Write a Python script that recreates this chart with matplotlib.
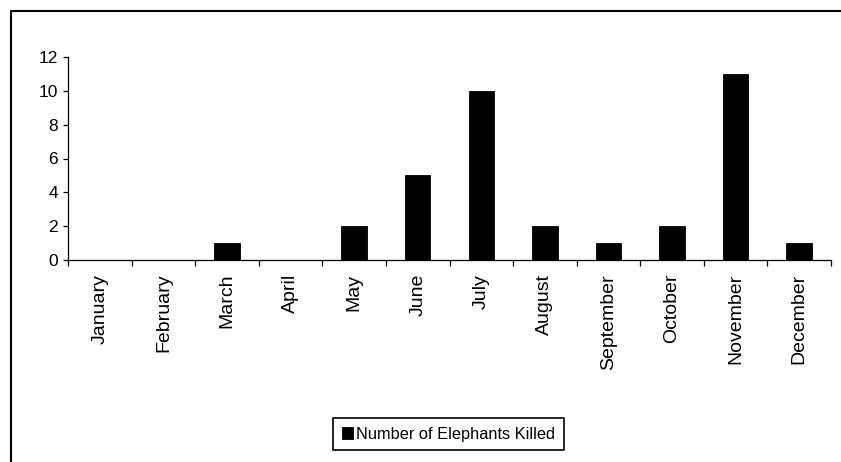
import matplotlib.pyplot as plt
from matplotlib.lines import Line2D
import numpy as np

months = ["January", "February", "March", "April", "May", "June", "July",
          "August", "September", "October", "November", "December"]
killed = [0, 0, 1, 0, 2, 5, 10, 2, 1, 2, 11, 1]
series_name = "Number of Elephants Killed"

plt.rcParams['font.family'] = ['Liberation Sans', 'DejaVu Sans']

W, H = 841, 462
fig = plt.figure(figsize=(W / 100, H / 100), dpi=100)
ax = fig.add_axes([68 / W, 1 - 260 / H, (831 - 68) / W, (260 - 57) / H])

x = np.arange(len(months))
ax.bar(x, killed, width=0.4, color='black', edgecolor='black', linewidth=0.6,
       label=series_name)

ax.set_xlim(-0.5, len(months) - 0.5)
ax.set_ylim(0, 12)
ax.set_yticks(range(0, 13, 2))

# boundary ticks, labels sit at category centres
ax.set_xticks(np.arange(-0.5, len(months), 1.0))
ax.set_xticklabels([])
ax.set_xticks(x, minor=True)
ax.set_xticklabels(months, minor=True, rotation=90, fontsize=14)
ax.tick_params(axis='x', which='major', direction='out', length=4.5, width=0.9)
ax.tick_params(axis='x', which='minor', length=0, pad=10)
ax.tick_params(axis='y', direction='out', length=3.6, width=0.9, pad=3.5,
               labelsize=12.5)

for side in ['top', 'right']:
    ax.spines[side].set_visible(False)
for side in ['left', 'bottom']:
    ax.spines[side].set_linewidth(0.9)

leg = fig.legend(loc='center', bbox_to_anchor=(448.5 / W, 1 - 434 / H),
                 fontsize=11.8, fancybox=False, edgecolor='black',
                 framealpha=1, handlelength=0.7, handleheight=0.8,
                 handletextpad=0.2, borderpad=0.5, borderaxespad=0)
leg.get_frame().set_linewidth(1.2)

# chart area border (left and top edges visible in the crop)
fig.add_artist(Line2D([10.5 / W, 10.5 / W, 1.0], [0.0, 1 - 10.5 / H, 1 - 10.5 / H],
                      transform=fig.transFigure, color='black', linewidth=1.5))

fig.savefig("out.png", dpi=100)
